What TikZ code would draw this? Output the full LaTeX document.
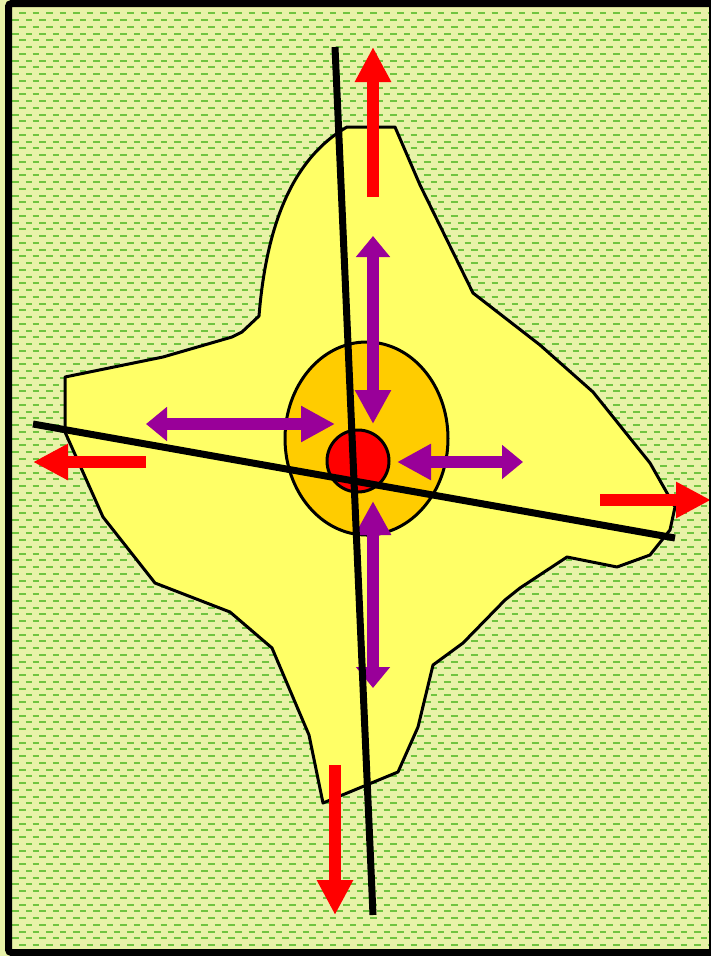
\documentclass[tikz,border=0pt]{standalone}
\usetikzlibrary{arrows.meta}
\definecolor{bgc}{RGB}{232,242,168}
\definecolor{dashc}{RGB}{112,196,64}
\definecolor{blobc}{RGB}{255,255,102}
\definecolor{nucc}{RGB}{255,204,0}
\definecolor{purp}{RGB}{153,0,153}
\definecolor{redc}{RGB}{255,0,0}
\tikzset{
  outline/.style={draw=black, line width=3pt, line join=round},
  axisline/.style={draw=black, line width=7pt},
  redarrow/.style={draw=redc, line width=12pt, -{Triangle[length=35pt,width=34pt]}},
  purparrow/.style={draw=purp, line width=11.5pt, {Triangle[length=21pt,width=33pt]}-{Triangle[length=34pt,width=34pt]}},
  dashrow/.style={draw=dashc, line width=2pt}
}
\begin{document}
\begin{tikzpicture}[x=1pt,y=-1pt]
\useasboundingbox (0,0) rectangle (711,956);
% background with dashed pattern
\fill[bgc] (0,0) rectangle (711,956);
\foreach \k in {0,...,139} {
  \pgfmathsetmacro\yy{13.3+6.753*\k}
  \pgfmathsetmacro\ph{mod(\k,2)*6.75}
  \draw[dashrow, dash pattern=on 6.5pt off 7pt, dash phase=\ph pt] (5.5,\yy) -- (711,\yy);
}
% cell body
\path[fill=blobc, outline] (347,127) -- (395,127) -- (420,185) -- (473,293) -- (540,345) -- (593,392) -- (650,463) -- (675,507) -- (670,530) -- (650,555) -- (617,567) -- (567,557) -- (520,588) -- (505,600) -- (463,643) -- (433,665) -- (418,727) -- (398,772) -- (323,803) -- (309,735) -- (272,648) -- (230,612) -- (155,583) -- (103,517) -- (82,470) -- (65,432) -- (65,377) -- (163,357) -- (232,337) -- (242,332) -- (259,316) .. controls (266,230) and (290,160) .. (347,127) -- cycle;
% nucleus and nucleolus
\path[fill=nucc, outline] (366.5,438.5) ellipse [x radius=81.5, y radius=96.5];
\path[fill=redc, outline] (358,461) circle [radius=31];
% purple double arrows
\coordinate (pUo) at (373,236); \coordinate (pUi) at (373,424);
\coordinate (pLo) at (146,424); \coordinate (pLi) at (335,424);
\coordinate (pRo) at (523,462); \coordinate (pRi) at (397,462);
\coordinate (pDo) at (373,688); \coordinate (pDi) at (373,501);
\draw[purparrow] (pUo) -- (pUi);
\draw[purparrow] (pLo) -- (pLi);
\draw[purparrow] (pRo) -- (pRi);
\draw[purparrow] (pDo) -- (pDi);
% axis lines
\coordinate (vA) at (335,47); \coordinate (vB) at (373,915);
\coordinate (hA) at (33,424); \coordinate (hB) at (675,538);
\draw[axisline] (vA) -- (vB);
\draw[axisline] (hA) -- (hB);
% red arrows
\coordinate (rUs) at (373,197); \coordinate (rUe) at (373,47);
\coordinate (rLs) at (146,462); \coordinate (rLe) at (33,462);
\coordinate (rRs) at (600,500); \coordinate (rRe) at (711,500);
\coordinate (rDs) at (335,765); \coordinate (rDe) at (335,915);
\draw[redarrow] (rUs) -- (rUe);
\draw[redarrow] (rLs) -- (rLe);
\draw[redarrow] (rRs) -- (rRe);
\draw[redarrow] (rDs) -- (rDe);
% frame
\draw[line width=7pt, rounded corners=3pt] (8.5,3.5) rectangle (712.5,952.5);
\end{tikzpicture}
\end{document}
